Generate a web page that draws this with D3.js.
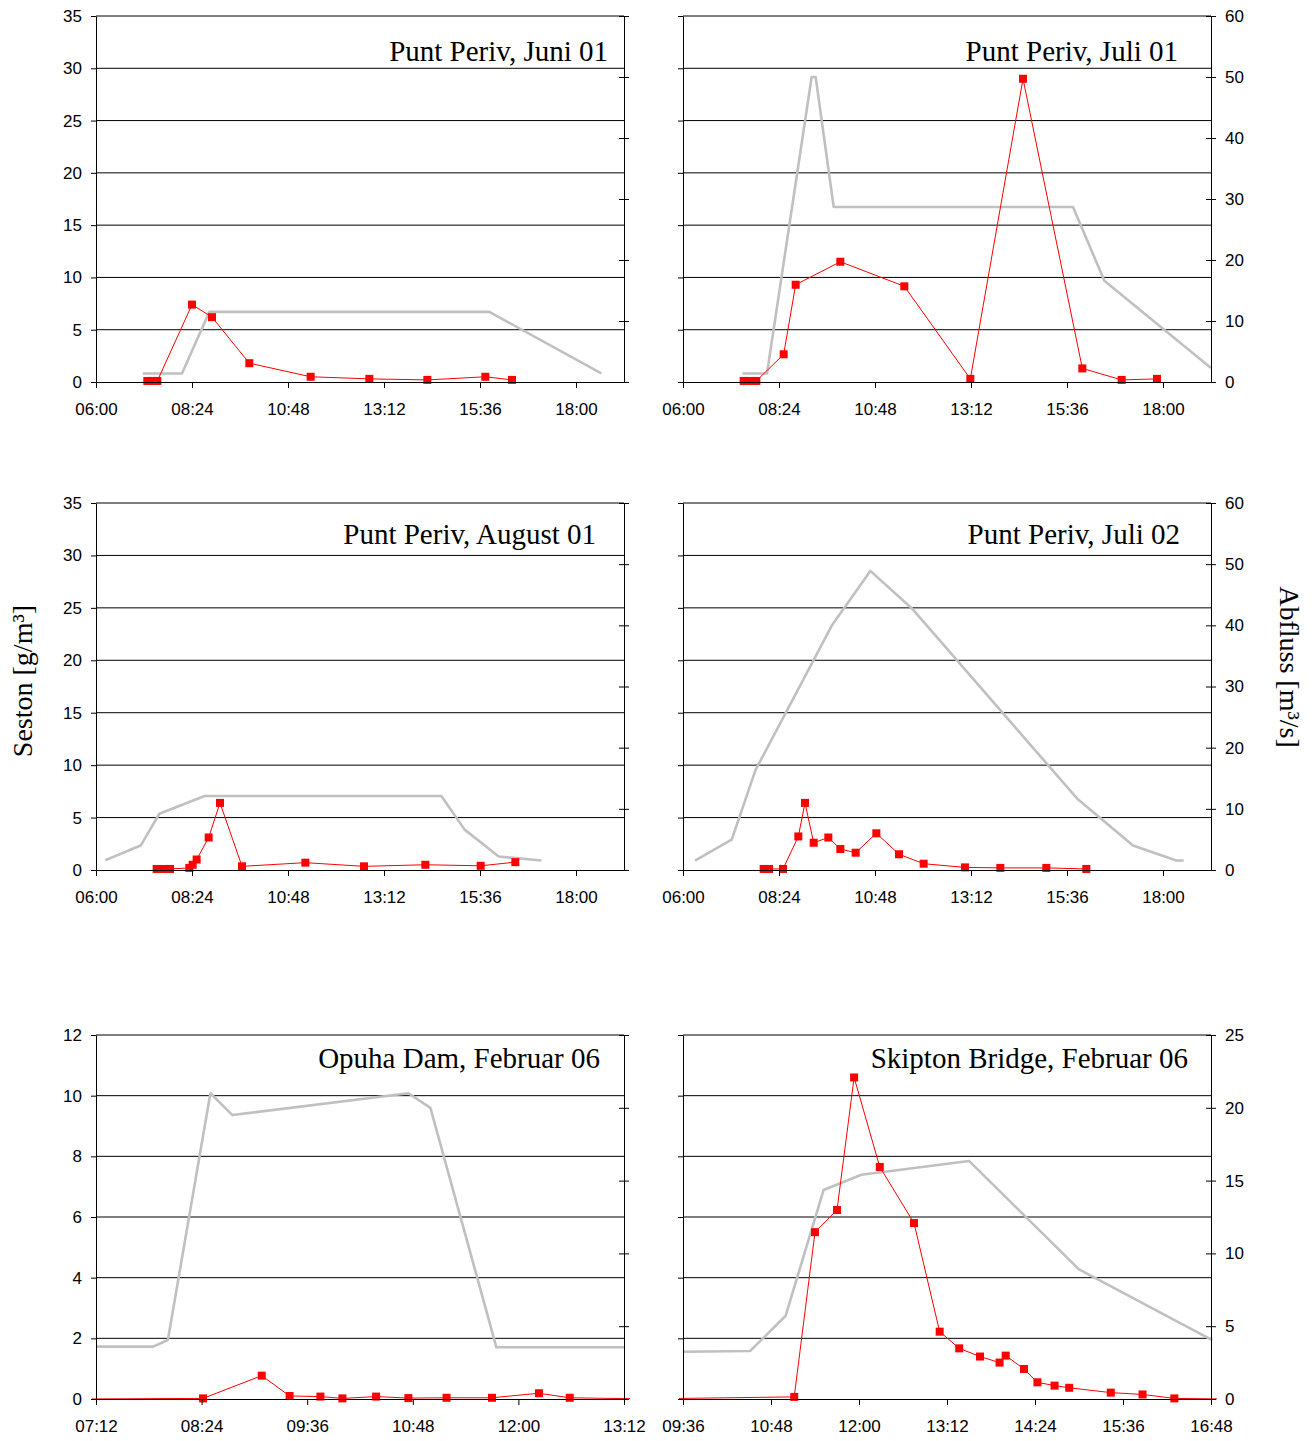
<!DOCTYPE html>
<html>
<head>
<meta charset="utf-8">
<script src="https://cdn.jsdelivr.net/npm/d3@7/dist/d3.min.js"></script>
<style>
  body { margin:0; background:#fff; }
</style>
</head>
<body>
<svg id="svg" width="1316" height="1441"></svg>
<script>
// Seston (left axis, g/m3) and Abfluss (right axis, m3/s), times as hh:mm

var juni01Time     = ["07:17","07:24","07:32","08:24","08:54","09:50","11:22","12:50","14:17","15:44","16:24"];
var juni01Seston   = [0.1, 0.1, 0.1, 7.4, 6.2, 1.8, 0.5, 0.3, 0.2, 0.5, 0.2];
var juni01FlowTime = ["07:10","08:09","08:50","15:50","18:38"];
var juni01Flow     = [1.4, 1.4, 11.5, 11.5, 1.4];

var juli01Time     = ["07:31","07:40","07:50","08:31","08:49","09:56","11:32","13:11","14:30","15:59","16:58","17:51"];
var juli01Seston   = [0.1, 0.1, 0.1, 2.65, 9.3, 11.5, 9.15, 0.3, 29.0, 1.3, 0.2, 0.3];
var juli01FlowTime = ["07:29","08:06","09:13","09:19","09:46","15:45","16:32","19:12"];
var juli01Flow     = [1.4, 1.4, 50, 50, 28.7, 28.7, 16.6, 2.3];

var aug01Time      = ["07:31","07:42","07:51","08:20","08:25","08:31","08:49","09:06","09:39","11:14","12:42","14:14","15:37","16:29"];
var aug01Seston    = [0.1, 0.1, 0.1, 0.2, 0.5, 1.0, 3.1, 6.4, 0.35, 0.7, 0.35, 0.5, 0.4, 0.75];
var aug01FlowTime  = ["06:14","07:07","07:35","08:43","14:38","15:13","16:04","17:08"];
var aug01Flow      = [1.6, 4.0, 9.2, 12.1, 12.1, 6.6, 2.2, 1.55];

var juli02Time     = ["08:01","08:09","08:30","08:53","09:03","09:16","09:38","09:56","10:19","10:50","11:24","12:01","13:03","13:56","15:05","16:05"];
var juli02Seston   = [0.1, 0.1, 0.1, 3.2, 6.4, 2.6, 3.1, 2.0, 1.65, 3.5, 1.5, 0.6, 0.25, 0.2, 0.2, 0.1];
var juli02FlowTime = ["06:18","07:13","07:49","09:44","10:41","11:43","15:51","17:15","18:20","18:31"];
var juli02Flow     = [1.55, 4.95, 16.4, 40.1, 48.9, 42.8, 11.7, 4.0, 1.55, 1.55];

var opuhaTime      = ["07:00","08:25","09:05","09:24","09:45","10:00","10:23","10:45","11:11","11:42","12:14","12:35","13:30"];
var opuhaSeston    = [0, 0.02, 0.77, 0.1, 0.08, 0.02, 0.08, 0.03, 0.04, 0.04, 0.19, 0.04, 0];
var opuhaFlowTime  = ["07:12","07:51","08:01","08:30","08:45","10:45","11:00","11:45","13:12"];
var opuhaFlow      = [3.6, 3.6, 4.05, 21.0, 19.5, 21.0, 20.0, 3.55, 3.55];

var skiptonTime     = ["09:00","11:07","11:24","11:42","11:56","12:17","12:45","13:06","13:22","13:39","13:55","14:00","14:15","14:26","14:40","14:52","15:26","15:52","16:18","17:00"];
var skiptonSeston   = [0, 0.07, 5.5, 6.23, 10.6, 7.65, 5.8, 2.22, 1.67, 1.4, 1.2, 1.43, 0.99, 0.55, 0.44, 0.37, 0.21, 0.15, 0.02, 0];
var skiptonFlowTime = ["09:36","10:31","11:00","11:31","12:02","13:30","15:00","16:49"];
var skiptonFlow     = [3.25, 3.3, 5.72, 14.35, 15.4, 16.35, 8.9, 4.05];

var titles = ["Punt Periv, Juni 01","Punt Periv, Juli 01","Punt Periv, August 01",
              "Punt Periv, Juli 02","Opuha Dam, Februar 06","Skipton Bridge, Februar 06"];

// axis ranges: [start, end, step] for time, [max, step] for left/right
var timeRange6  = ["06:00","19:12",144];
var timeRangeOp = ["07:12","13:12",72];
var timeRangeSk = ["09:36","16:48",72];

var leftAxisTop = [35, 5];
var leftAxisBot = [12, 2];
var rightAxisTop = [60, 10];
var rightAxisBot = [25, 5];

// layout
var colX = [96, 683];
var plotW = 528;
var rowsY = [{top:16, bottom:382, titleY:61},
             {top:503, bottom:870, titleY:544},
             {top:1035, bottom:1399, titleY:1068}];

var panels = [
  {title:titles[0], t:juni01Time, s:juni01Seston, ft:juni01FlowTime, f:juni01Flow, col:0, row:0, xr:timeRange6,  ya:leftAxisTop, ra:rightAxisTop, titleEnd:608},
  {title:titles[1], t:juli01Time, s:juli01Seston, ft:juli01FlowTime, f:juli01Flow, col:1, row:0, xr:timeRange6,  ya:leftAxisTop, ra:rightAxisTop, titleEnd:1178},
  {title:titles[2], t:aug01Time,  s:aug01Seston,  ft:aug01FlowTime,  f:aug01Flow,  col:0, row:1, xr:timeRange6,  ya:leftAxisTop, ra:rightAxisTop, titleEnd:596},
  {title:titles[3], t:juli02Time, s:juli02Seston, ft:juli02FlowTime, f:juli02Flow, col:1, row:1, xr:timeRange6,  ya:leftAxisTop, ra:rightAxisTop, titleEnd:1180},
  {title:titles[4], t:opuhaTime,  s:opuhaSeston,  ft:opuhaFlowTime,  f:opuhaFlow,  col:0, row:2, xr:timeRangeOp, ya:leftAxisBot, ra:rightAxisBot, titleEnd:600},
  {title:titles[5], t:skiptonTime,s:skiptonSeston,ft:skiptonFlowTime,f:skiptonFlow,col:1, row:2, xr:timeRangeSk, ya:leftAxisBot, ra:rightAxisBot, titleEnd:1188}
];

function toMin(s) { var p = s.split(":"); return (+p[0]) * 60 + (+p[1]); }
function fmtMin(m) {
  var h = Math.floor(m / 60), mm = Math.round(m % 60);
  return (h < 10 ? "0" : "") + h + ":" + (mm < 10 ? "0" : "") + mm;
}

var svg = d3.select("#svg");
var tickFont = "'Liberation Sans', Arial, sans-serif";
var serif = "'Liberation Serif', 'Times New Roman', serif";

panels.forEach(function(p, i) {
  var row = rowsY[p.row];
  var h = row.bottom - row.top;
  var g = svg.append("g").attr("transform", "translate(" + colX[p.col] + "," + row.top + ")");

  var x0 = toMin(p.xr[0]), x1 = toMin(p.xr[1]);
  var x = d3.scaleLinear().domain([x0, x1]).range([0, plotW]);
  var y = d3.scaleLinear().domain([0, p.ya[0]]).range([h, 0]);
  var r = d3.scaleLinear().domain([0, p.ra[0]]).range([h, 0]);

  var yTicks = d3.range(0, p.ya[0] + 0.001, p.ya[1]);
  var rTicks = d3.range(0, p.ra[0] + 0.001, p.ra[1]);
  var xTicks = d3.range(x0, x1 + 0.001, p.xr[2]);

  // gridlines
  g.selectAll(".grid").data(yTicks.slice(1)).enter().append("line")
    .attr("class", "grid")
    .attr("x1", 0).attr("x2", plotW)
    .attr("y1", function(d) { return y(d); })
    .attr("y2", function(d) { return y(d); })
    .style("stroke", "#000").style("stroke-width", 1);

  var clipId = "clip" + i;
  g.append("clipPath").attr("id", clipId).append("rect")
    .attr("x", -4).attr("y", -10).attr("width", plotW + 10).attr("height", h + 20);

  var data = g.append("g").attr("clip-path", "url(#" + clipId + ")");

  // Abfluss (grey)
  var flowPts = p.ft.map(function(t, k) { return [toMin(t), p.f[k]]; });
  data.append("path")
    .datum(flowPts)
    .attr("d", d3.line().x(function(d) { return x(d[0]); }).y(function(d) { return r(d[1]); }))
    .style("fill", "none").style("stroke", "#c0c0c0").style("stroke-width", 2.6)
    .style("stroke-linejoin", "round");

  // Seston (red)
  var sesPts = p.t.map(function(t, k) { return [toMin(t), p.s[k]]; });
  data.append("path")
    .datum(sesPts)
    .attr("d", d3.line().x(function(d) { return x(d[0]); }).y(function(d) { return y(d[1]); }))
    .style("fill", "none").style("stroke", "#ff0000").style("stroke-width", 1);

  data.selectAll(".mk").data(sesPts).enter().append("rect")
    .attr("class", "mk")
    .attr("x", function(d) { return x(d[0]) - 4; })
    .attr("y", function(d) { return y(d[1]) - 4; })
    .attr("width", 8).attr("height", 8)
    .style("fill", "#ff0000");

  // left axis
  var yAxis = d3.axisLeft(y).tickValues(yTicks).tickSize(5).tickPadding(9).tickSizeOuter(0);
  if (p.col == 1) yAxis.tickFormat("");
  var ya = g.append("g").call(yAxis);

  // right axis (ticks cross the line)
  var rAxis = d3.axisRight(r).tickValues(rTicks).tickSize(5).tickPadding(9).tickSizeOuter(0);
  if (p.col == 0) rAxis.tickFormat("");
  var ra = g.append("g").attr("transform", "translate(" + plotW + ",0)").call(rAxis);
  ra.selectAll(".tick line").attr("x1", -5).attr("x2", 5);

  // bottom axis
  var xAxis = d3.axisBottom(x).tickValues(xTicks).tickFormat(fmtMin).tickSize(6).tickPadding(15).tickSizeOuter(0);
  var xa = g.append("g").attr("transform", "translate(0," + h + ")").call(xAxis);

  [ya, ra, xa].forEach(function(a) {
    a.attr("font-family", tickFont).attr("font-size", 17).attr("color", "#000");
    a.selectAll("text").style("fill", "#000");
  });

  // title
  svg.append("text")
    .attr("x", p.titleEnd).attr("y", row.titleY)
    .attr("text-anchor", "end")
    .style("font-family", serif).style("font-size", "29px")
    .text(p.title);
});

// axis titles
svg.append("text")
  .attr("transform", "translate(32,681) rotate(-90)")
  .attr("text-anchor", "middle")
  .style("font-family", serif).style("font-size", "28px")
  .text("Seston [g/m³]");

svg.append("text")
  .attr("transform", "translate(1280,667) rotate(90)")
  .attr("text-anchor", "middle")
  .style("font-family", serif).style("font-size", "28px")
  .text("Abfluss [m³/s]");
</script>
</body>
</html>
